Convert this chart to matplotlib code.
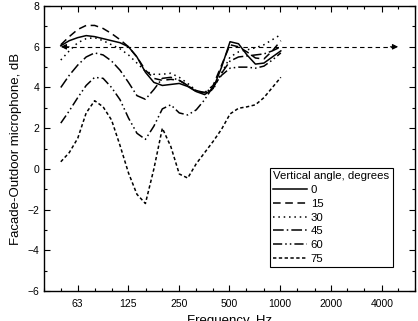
import numpy as np
import matplotlib
matplotlib.use("Agg")
import matplotlib.pyplot as plt
from matplotlib.ticker import FixedLocator, NullFormatter, MultipleLocator

plt.rcParams['font.family'] = ['Liberation Sans', 'DejaVu Sans']

# 1/6-octave frequencies from 50 Hz to 1000 Hz
freqs = [50 * 2 ** (k / 6) for k in range(27)]

angle_0 = [6.05, 6.3, 6.45, 6.55, 6.5, 6.4, 6.3, 6.2, 6.0, 5.5, 4.75, 4.25, 4.1, 4.15,
           4.2, 4.05, 3.8, 3.65, 3.95, 5.0, 6.25, 6.15, 5.6, 5.15, 5.2, 5.5, 5.8]
angle_15 = [6.1, 6.5, 6.85, 7.05, 7.05, 6.9, 6.65, 6.35, 6.0, 5.5, 4.85, 4.45, 4.35, 4.4,
            4.35, 4.1, 3.8, 3.75, 4.1, 5.1, 6.1, 6.0, 5.75, 5.45, 5.4, 5.8, 6.3]
angle_30 = [5.35, 5.8, 6.2, 6.4, 6.45, 6.3, 6.1, 5.9, 5.6, 5.2, 4.8, 4.65, 4.65, 4.7,
            4.5, 4.2, 3.85, 3.7, 3.9, 4.7, 5.5, 5.75, 5.85, 5.95, 6.1, 6.35, 6.6]
angle_45 = [4.0, 4.6, 5.1, 5.5, 5.7, 5.6, 5.3, 4.85, 4.25, 3.6, 3.42, 3.9, 4.45, 4.5,
            4.35, 4.1, 3.85, 3.75, 4.0, 4.7, 5.3, 5.5, 5.55, 5.6, 5.65, 5.8, 6.0]
angle_60 = [2.25, 2.85, 3.5, 4.1, 4.5, 4.45, 4.0, 3.4, 2.5, 1.75, 1.45, 2.1, 2.95, 3.15,
            2.75, 2.65, 2.9, 3.4, 4.05, 4.6, 4.95, 5.0, 5.0, 4.95, 5.05, 5.35, 5.7]
angle_75 = [0.35, 0.8, 1.5, 2.75, 3.35, 3.05, 2.4, 1.15, -0.2, -1.25, -1.7, 0.0, 2.0, 1.1,
            -0.25, -0.45, 0.25, 0.8, 1.35, 1.95, 2.7, 2.98, 3.05, 3.15, 3.5, 4.0, 4.5]

labels = ['0', '15', '30', '45', '60', '75']
series = [angle_0, angle_15, angle_30, angle_45, angle_60, angle_75]
styles = ['-', (0, (5, 3)), (0, (1, 2.5)), (0, (7, 2, 1, 2)), (0, (6, 2, 1, 2, 1, 2)), (0, (2.2, 1.6))]

tick_freqs = [63, 125, 250, 500, 1000, 2000, 4000]
tick_labels = ['63', '125', '250', '500', '1000', '2000', '4000']
third_octaves = [40, 50, 63, 80, 100, 125, 160, 200, 250, 315, 400, 500, 630, 800, 1000,
                 1250, 1600, 2000, 2500, 3150, 4000, 5000, 6300]

fig = plt.figure(figsize=(4.18, 3.21), dpi=100)
ax = fig.add_axes([0.105, 0.0935, 0.888, 0.8875])

for vals, lab, ls in zip(series, labels, styles):
    line, = ax.plot(freqs, vals, color='black', linestyle=ls, linewidth=1.1, label=lab)
    line.set_solid_joinstyle('round')
    line.set_dash_joinstyle('round')

# reference line at 6 dB with arrows
ax.plot([52, 4800], [6, 6], color='black', linestyle=(0, (4, 3)), linewidth=0.8)
ax.annotate('', xy=(50, 6), xytext=(56, 6),
            arrowprops=dict(arrowstyle='-|>', color='black', lw=0.8, mutation_scale=8,
                            shrinkA=0, shrinkB=0))
ax.annotate('', xy=(5000, 6), xytext=(4500, 6),
            arrowprops=dict(arrowstyle='-|>', color='black', lw=0.8, mutation_scale=8,
                            shrinkA=0, shrinkB=0))

ax.set_xscale('log')
ax.set_xlim(39.7, 6300)
ax.set_ylim(-6, 8)
ax.xaxis.set_major_locator(FixedLocator(tick_freqs))
ax.set_xticklabels(tick_labels)
ax.xaxis.set_minor_locator(FixedLocator([f for f in third_octaves if f not in tick_freqs]))
ax.xaxis.set_minor_formatter(NullFormatter())
ax.yaxis.set_major_locator(MultipleLocator(2))
ax.yaxis.set_minor_locator(MultipleLocator(1))

ax.tick_params(which='both', direction='in', top=True, right=True, labelsize=7.5, width=0.8)
ax.tick_params(which='major', length=4.5)
ax.tick_params(which='minor', length=2.5)
ax.tick_params(axis='x', pad=6)
for s in ax.spines.values():
    s.set_linewidth(1.0)

ax.set_xlabel('Frequency, Hz', fontsize=9.5, labelpad=4)
ax.set_ylabel('Facade-Outdoor microphone, dB', fontsize=9.5, labelpad=4)

leg = ax.legend(title='Vertical angle, degrees', loc='lower right',
                bbox_to_anchor=(0.955, 0.063), fontsize=8.2, title_fontsize=8.2,
                frameon=True, fancybox=False, edgecolor='black', framealpha=1,
                handlelength=3.0, handletextpad=0.3, labelspacing=0.33,
                borderpad=0.3, alignment='left')
leg.get_frame().set_linewidth(0.8)

fig.savefig('out.png', dpi=100)
